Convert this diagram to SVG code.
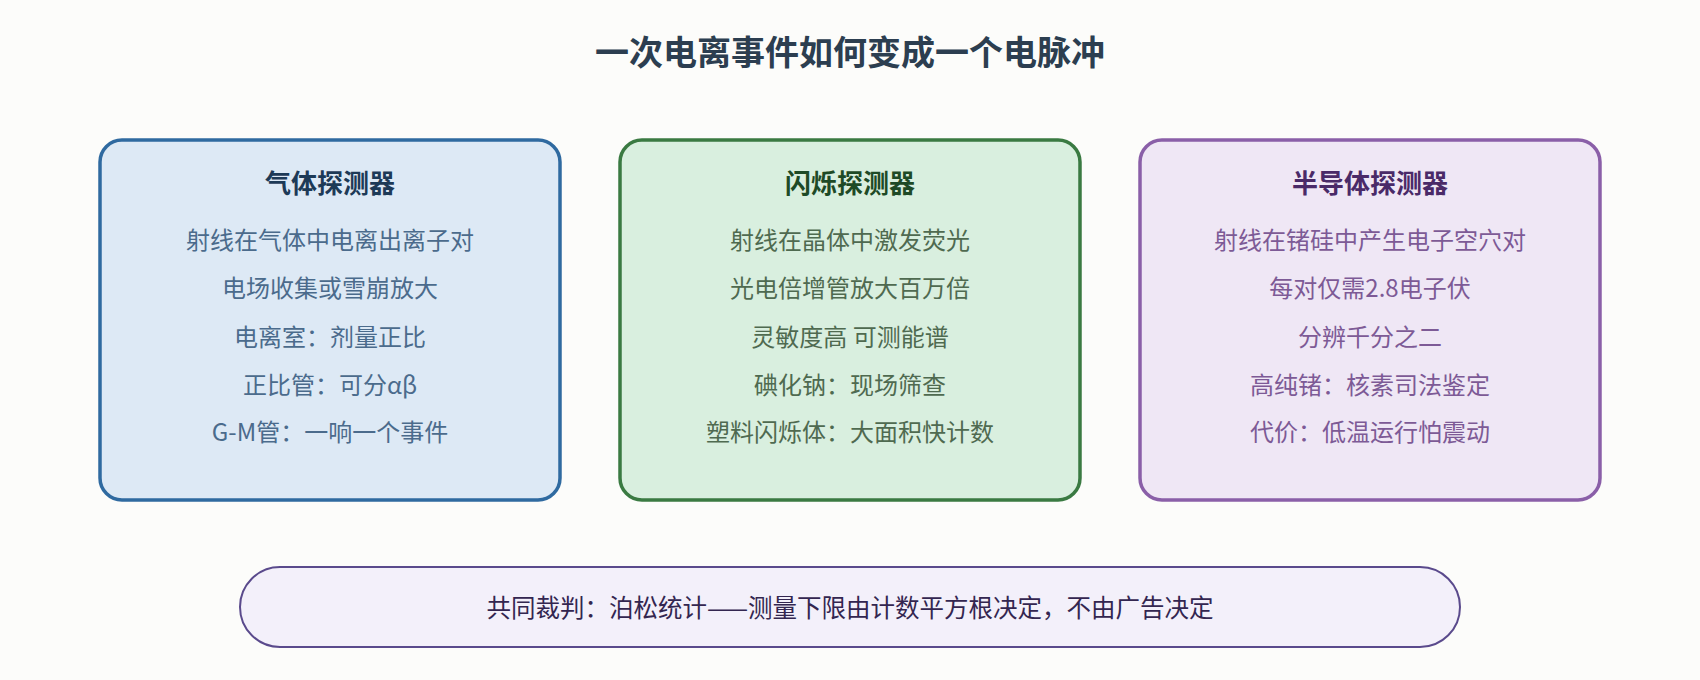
<svg xmlns="http://www.w3.org/2000/svg" width="1700" height="680" viewBox="0 0 1700 680">
<style>
text{font-family:"Microsoft YaHei","Noto Sans CJK SC","Noto Sans",sans-serif;text-anchor:middle}
.main{font-size:34px;font-weight:bold;fill:#2c3e50}
.card{stroke-width:3.5}
.h{font-size:26px;font-weight:bold}
.b{font-size:24px}
.gas .card{fill:#dde9f5;stroke:#2f6aa0}
.gas .h{fill:#1d3a57}
.gas .b{fill:#4b6b8c}
.sci .card{fill:#d9efdf;stroke:#3a7a42}
.sci .h{fill:#1e4a26}
.sci .b{fill:#4f6a50}
.semi .card{fill:#efe7f5;stroke:#8a5fa8}
.semi .h{fill:#4a2a68}
.semi .b{fill:#7d5a96}
.pill{fill:#f3f0fa;stroke:#5a4a8c;stroke-width:2}
.pt{font-size:24.5px;fill:#332650}
</style>
<rect width="1700" height="680" fill="#fcfcfa"/>
<g id="title"><text class="main" x="850" y="64.5">一次电离事件如何变成一个电脉冲</text></g>
<g id="gas" class="gas">
<rect class="card" x="100" y="140" width="460" height="360" rx="22"/>
<text class="h" x="330" y="193">气体探测器</text>
<text class="b" x="330" y="249">射线在气体中电离出离子对</text>
<text class="b" x="330" y="297">电场收集或雪崩放大</text>
<text class="b" x="330" y="346">电离室：剂量正比</text>
<text class="b" x="330" y="394">正比管：可分αβ</text>
<text class="b" x="330" y="441">G-M管：一响一个事件</text>
</g>
<g id="scintillation" class="sci">
<rect class="card" x="620" y="140" width="460" height="360" rx="22"/>
<text class="h" x="850" y="193">闪烁探测器</text>
<text class="b" x="850" y="249">射线在晶体中激发荧光</text>
<text class="b" x="850" y="297">光电倍增管放大百万倍</text>
<text class="b" x="850" y="346">灵敏度高 可测能谱</text>
<text class="b" x="850" y="394">碘化钠：现场筛查</text>
<text class="b" x="850" y="441">塑料闪烁体：大面积快计数</text>
</g>
<g id="semiconductor" class="semi">
<rect class="card" x="1140" y="140" width="460" height="360" rx="22"/>
<text class="h" x="1370" y="193">半导体探测器</text>
<text class="b" x="1370" y="249">射线在锗硅中产生电子空穴对</text>
<text class="b" x="1370" y="297">每对仅需2.8电子伏</text>
<text class="b" x="1370" y="346">分辨千分之二</text>
<text class="b" x="1370" y="394">高纯锗：核素司法鉴定</text>
<text class="b" x="1370" y="441">代价：低温运行怕震动</text>
</g>
<g id="verdict">
<rect class="pill" x="240" y="567" width="1220" height="80" rx="40"/>
<text class="pt" x="850" y="617">共同裁判：泊松统计——测量下限由计数平方根决定，不由广告决定</text>
</g>
<g id="connectors"/>
</svg>
